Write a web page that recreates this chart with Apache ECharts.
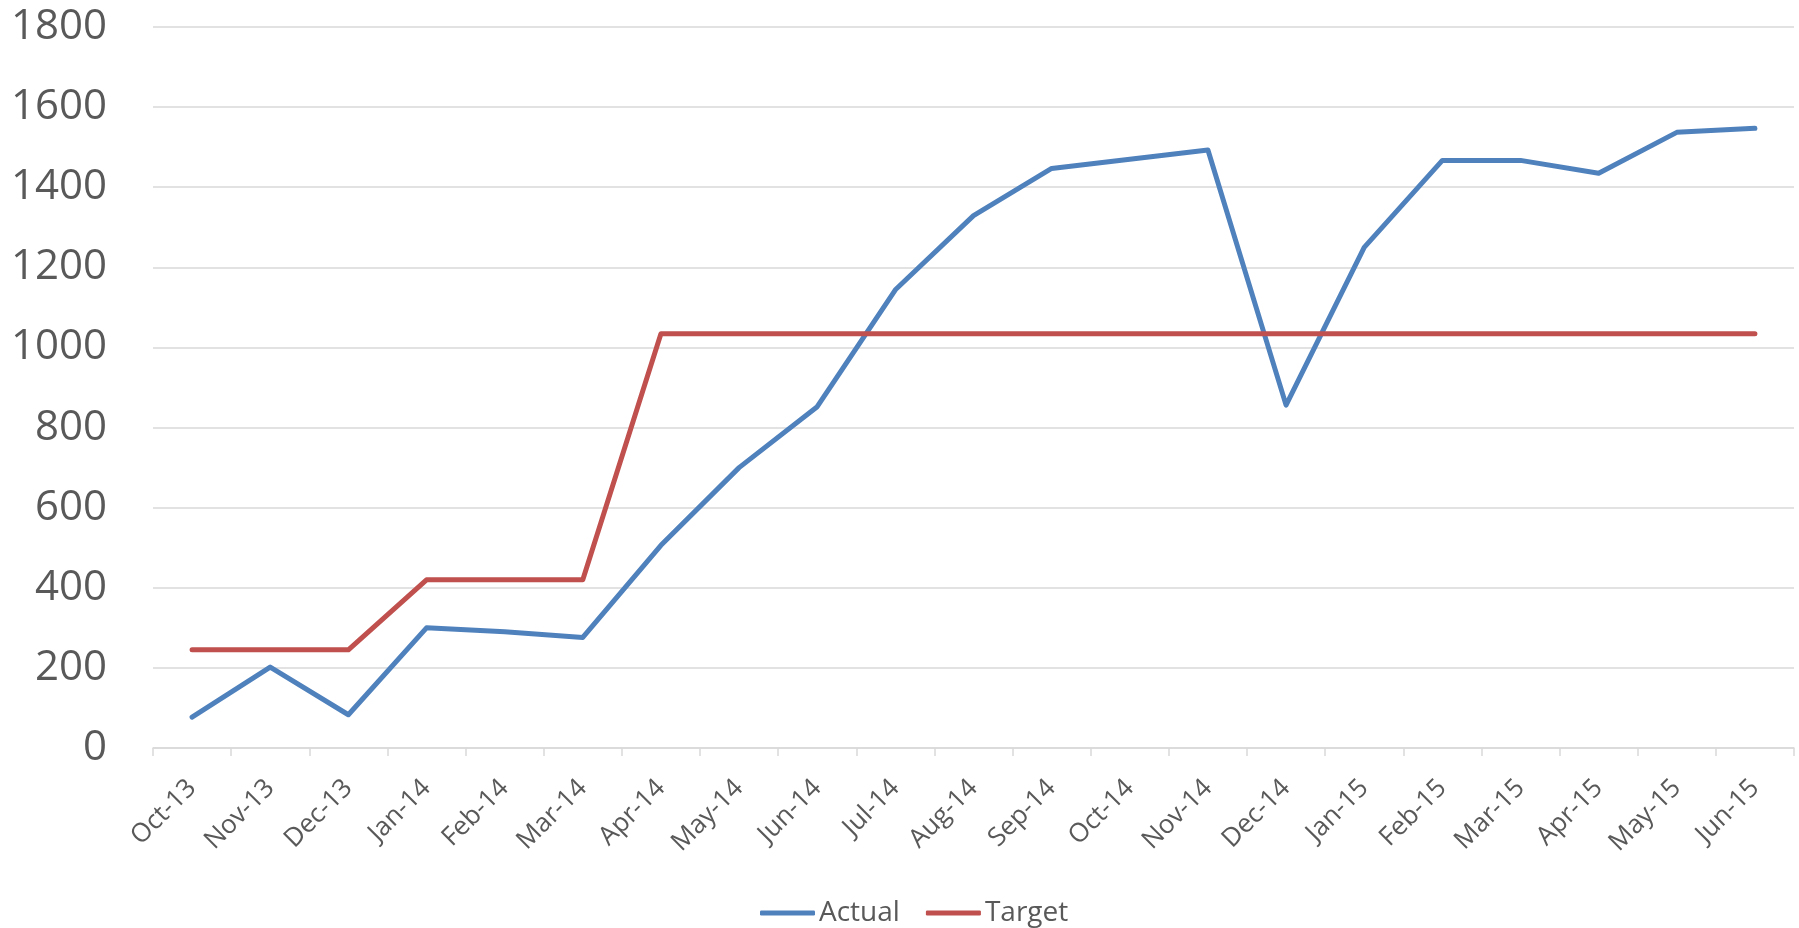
<!DOCTYPE html>
<html>
<head>
<meta charset="utf-8">
<script src="https://cdn.jsdelivr.net/npm/echarts@6/dist/echarts.min.js"></script>
<style>
  html, body { margin: 0; padding: 0; background: #ffffff; }
  #chart { width: 1799px; height: 928px; }
</style>
</head>
<body>
<div id="chart"></div>
<script>
// monthly categories
var months = ['Oct-13', 'Nov-13', 'Dec-13', 'Jan-14', 'Feb-14', 'Mar-14', 'Apr-14',
              'May-14', 'Jun-14', 'Jul-14', 'Aug-14', 'Sep-14', 'Oct-14', 'Nov-14',
              'Dec-14', 'Jan-15', 'Feb-15', 'Mar-15', 'Apr-15', 'May-15', 'Jun-15'];

var actual = [77, 202, 83, 300, 290, 276, 506, 700, 852, 1144, 1329, 1447, 1470, 1493,
              856, 1250, 1467, 1467, 1435, 1537, 1547];

var target = [245, 245, 245, 420, 420, 420, 1034, 1034, 1034, 1034, 1034, 1034, 1034, 1034,
              1034, 1034, 1034, 1034, 1034, 1034, 1034];

var seriesNames = ['Actual', 'Target'];

var textColor = '#595959';
var lineGrey = '#d9d9d9';

var chart = echarts.init(document.getElementById('chart'), null, { renderer: 'canvas' });

var option = {
    backgroundColor: '#ffffff',
    animation: false,
    grid: {
        left: 153,
        right: 5,
        top: 27,
        bottom: 180
    },
    legend: {
        data: seriesNames,
        left: 755,
        top: 894,
        itemWidth: 55,
        itemHeight: 5,
        itemGap: 26,
        icon: 'roundRect',
        textStyle: {
            fontFamily: 'Open Sans',
            fontSize: 28,
            color: textColor,
            padding: [0, 0, 0, -1]
        }
    },
    xAxis: {
        type: 'category',
        data: months,
        boundaryGap: true,
        axisLine: { lineStyle: { color: lineGrey, width: 1.5 } },
        axisTick: { show: true, length: 8, lineStyle: { color: lineGrey, width: 1.5 } },
        axisLabel: {
            interval: 0,
            rotate: 45,
            margin: 36,
            fontFamily: 'Open Sans',
            fontSize: 26,
            color: textColor
        }
    },
    yAxis: {
        type: 'value',
        min: 0,
        max: 1800,
        interval: 200,
        axisLine: { show: false },
        axisTick: { show: false },
        axisLabel: {
            margin: 46,
            fontFamily: 'Open Sans',
            fontSize: 42,
            color: textColor,
            formatter: function (v) { return String(v); }
        },
        splitLine: { lineStyle: { color: lineGrey, width: 1.5 } }
    },
    series: [
        {
            name: seriesNames[0],
            type: 'line',
            data: actual,
            symbol: 'none',
            color: '#4f81bd',
            lineStyle: { width: 5, color: '#4f81bd', cap: 'round', join: 'round' }
        },
        {
            name: seriesNames[1],
            type: 'line',
            data: target,
            symbol: 'none',
            color: '#c0504d',
            lineStyle: { width: 5, color: '#c0504d', cap: 'round', join: 'round' }
        }
    ]
};

chart.setOption(option);
</script>
</body>
</html>
